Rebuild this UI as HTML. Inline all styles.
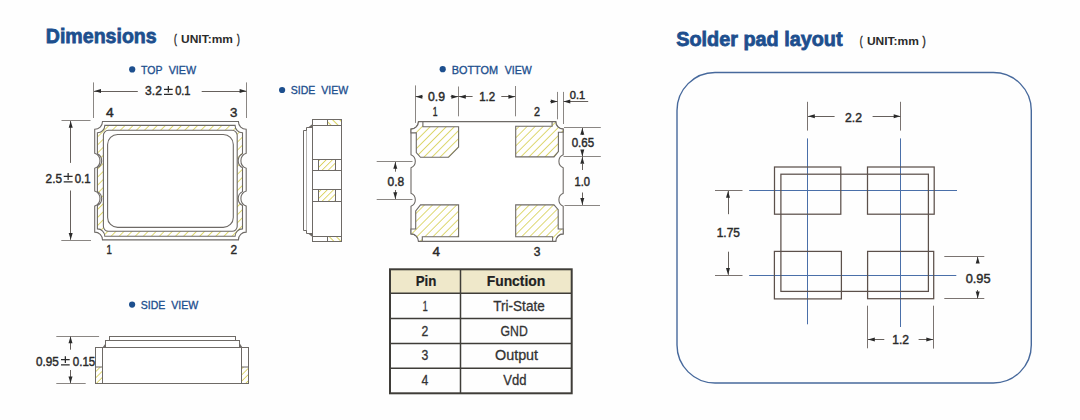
<!DOCTYPE html>
<html><head><meta charset="utf-8"><title>Dimensions</title>
<style>html,body{margin:0;padding:0;background:#fefefe;width:1080px;height:420px;overflow:hidden;font-family:"Liberation Sans",sans-serif} svg{display:block}</style>
</head><body>
<svg width="1080" height="420" viewBox="0 0 1080 420">
<defs>
<pattern id="hatch" patternUnits="userSpaceOnUse" width="5.7" height="5.7" patternTransform="rotate(45)">
<rect width="5.7" height="5.7" fill="#fff"/>
<line x1="0" y1="0" x2="0" y2="5.7" stroke="#d6ce4e" stroke-width="1.6"/>
</pattern>
<pattern id="hatch2" patternUnits="userSpaceOnUse" width="4.4" height="4.4" patternTransform="rotate(45)">
<rect width="4.4" height="4.4" fill="#fff"/>
<line x1="0" y1="0" x2="0" y2="4.4" stroke="#d6ce4e" stroke-width="1.6"/>
</pattern>
<pattern id="hatchS" patternUnits="userSpaceOnUse" width="5" height="5" patternTransform="rotate(-45)">
<rect width="5" height="5" fill="#fff"/>
<line x1="0" y1="0" x2="0" y2="5" stroke="#d6ce4e" stroke-width="1.8"/>
</pattern>
</defs>
<rect width="1080" height="420" fill="#fefefe"/>
<text x="101.25" y="43.2" font-family="Liberation Sans" font-size="21" font-weight="bold" fill="#1d4f8e" stroke="#1d4f8e" stroke-width="0.8" text-anchor="middle" textLength="110.9" lengthAdjust="spacingAndGlyphs">Dimensions</text>
<text x="175.40" y="42.8" font-family="Liberation Sans" font-size="12.5" font-weight="normal" fill="#2b2b2b" stroke="#2b2b2b" stroke-width="0.5" text-anchor="middle" textLength="2.8" lengthAdjust="spacingAndGlyphs">(</text>
<text x="207.00" y="42.8" font-family="Liberation Sans" font-size="11.8" font-weight="bold" fill="#2b2b2b" text-anchor="middle" textLength="51.8" lengthAdjust="spacingAndGlyphs">UNIT:mm</text>
<text x="238.40" y="42.8" font-family="Liberation Sans" font-size="12.5" font-weight="normal" fill="#2b2b2b" stroke="#2b2b2b" stroke-width="0.5" text-anchor="middle" textLength="2.8" lengthAdjust="spacingAndGlyphs">)</text>
<text x="759.40" y="45.7" font-family="Liberation Sans" font-size="20.2" font-weight="bold" fill="#1d4f8e" stroke="#1d4f8e" stroke-width="0.8" text-anchor="middle" textLength="166.2" lengthAdjust="spacingAndGlyphs">Solder pad layout</text>
<text x="861.20" y="45" font-family="Liberation Sans" font-size="12.5" font-weight="normal" fill="#2b2b2b" stroke="#2b2b2b" stroke-width="0.5" text-anchor="middle" textLength="2.8" lengthAdjust="spacingAndGlyphs">(</text>
<text x="892.90" y="45" font-family="Liberation Sans" font-size="11.8" font-weight="bold" fill="#2b2b2b" text-anchor="middle" textLength="52.0" lengthAdjust="spacingAndGlyphs">UNIT:mm</text>
<text x="924.00" y="45" font-family="Liberation Sans" font-size="12.5" font-weight="normal" fill="#2b2b2b" stroke="#2b2b2b" stroke-width="0.5" text-anchor="middle" textLength="3.2" lengthAdjust="spacingAndGlyphs">)</text>
<circle cx="132.2" cy="69.4" r="3.1" fill="#1d4f8e"/>
<text x="151.70" y="73.6" font-family="Liberation Sans" font-size="11.8" font-weight="normal" fill="#1d4f8e" stroke="#1d4f8e" stroke-width="0.35" text-anchor="middle" textLength="21.4" lengthAdjust="spacingAndGlyphs">TOP</text>
<text x="182.40" y="73.6" font-family="Liberation Sans" font-size="11.8" font-weight="normal" fill="#1d4f8e" stroke="#1d4f8e" stroke-width="0.35" text-anchor="middle" textLength="27.4" lengthAdjust="spacingAndGlyphs">VIEW</text>
<circle cx="282.1" cy="90" r="3.1" fill="#1d4f8e"/>
<text x="303.10" y="94" font-family="Liberation Sans" font-size="11.8" font-weight="normal" fill="#1d4f8e" stroke="#1d4f8e" stroke-width="0.35" text-anchor="middle" textLength="24.6" lengthAdjust="spacingAndGlyphs">SIDE</text>
<text x="334.77" y="94" font-family="Liberation Sans" font-size="11.8" font-weight="normal" fill="#1d4f8e" stroke="#1d4f8e" stroke-width="0.35" text-anchor="middle" textLength="27.1" lengthAdjust="spacingAndGlyphs">VIEW</text>
<circle cx="442.7" cy="69.2" r="3.1" fill="#1d4f8e"/>
<text x="474.85" y="73.5" font-family="Liberation Sans" font-size="11.8" font-weight="normal" fill="#1d4f8e" stroke="#1d4f8e" stroke-width="0.35" text-anchor="middle" textLength="46.3" lengthAdjust="spacingAndGlyphs">BOTTOM</text>
<text x="518.30" y="73.5" font-family="Liberation Sans" font-size="11.8" font-weight="normal" fill="#1d4f8e" stroke="#1d4f8e" stroke-width="0.35" text-anchor="middle" textLength="27.0" lengthAdjust="spacingAndGlyphs">VIEW</text>
<circle cx="132.1" cy="304.6" r="3.1" fill="#1d4f8e"/>
<text x="153.10" y="309" font-family="Liberation Sans" font-size="11.8" font-weight="normal" fill="#1d4f8e" stroke="#1d4f8e" stroke-width="0.35" text-anchor="middle" textLength="24.6" lengthAdjust="spacingAndGlyphs">SIDE</text>
<text x="184.78" y="309" font-family="Liberation Sans" font-size="11.8" font-weight="normal" fill="#1d4f8e" stroke="#1d4f8e" stroke-width="0.35" text-anchor="middle" textLength="27.1" lengthAdjust="spacingAndGlyphs">VIEW</text>
<path d="M102.50,121.50H238.40A7.8,7.8 0 0 0 246.20,129.30V153.27A8.0,8.0 0 0 0 246.20,168.33V191.07A8.0,8.0 0 0 0 246.20,206.13V232.10A7.8,7.8 0 0 0 238.40,239.90H102.50A7.8,7.8 0 0 0 94.70,232.10V206.13A8.0,8.0 0 0 0 94.70,191.07V168.33A8.0,8.0 0 0 0 94.70,153.27V129.30A7.8,7.8 0 0 0 102.50,121.50Z" fill="#fff" stroke="#6e6a66" stroke-width="1.1"/>
<path d="M104.80,125.40H235.10A7.4,7.4 0 0 0 242.50,132.80V153.83A7.8,7.8 0 0 0 242.50,167.77V191.63A7.8,7.8 0 0 0 242.50,205.57V228.90A7.4,7.4 0 0 0 235.10,236.30H104.80A7.4,7.4 0 0 0 97.40,228.90V205.57A7.8,7.8 0 0 0 97.40,191.63V167.77A7.8,7.8 0 0 0 97.40,153.83V132.80A7.4,7.4 0 0 0 104.80,125.40Z" fill="url(#hatch)" stroke="#6e6a66" stroke-width="1.1"/>
<rect x="103.4" y="130.3" width="133.79999999999998" height="101.0" rx="5" fill="#fff" stroke="#6e6a66" stroke-width="1.1"/>
<rect x="107.6" y="134.5" width="125.70000000000002" height="92.9" rx="10" fill="#fff" stroke="#6e6a66" stroke-width="1.1"/>
<line x1="93.5" y1="82.4" x2="93.5" y2="118" stroke="#8a8683" stroke-width="1"/>
<line x1="246.5" y1="82.4" x2="246.5" y2="118" stroke="#8a8683" stroke-width="1"/>
<line x1="94" y1="91.5" x2="137.8" y2="91.5" stroke="#66605c" stroke-width="1"/>
<polygon points="94.20,91.10 101.00,89.10 101.00,93.10" fill="#2a2a2a"/>
<line x1="201.7" y1="91.5" x2="246.5" y2="91.5" stroke="#66605c" stroke-width="1"/>
<polygon points="246.40,91.10 239.60,89.10 239.60,93.10" fill="#2a2a2a"/>
<text x="153.50" y="95.1" font-family="Liberation Sans" font-size="13" font-weight="normal" fill="#2a2a2a" stroke="#2a2a2a" stroke-width="0.45" text-anchor="middle" textLength="16.8" lengthAdjust="spacingAndGlyphs">3.2</text>
<path d="M164.00,89.37H172.70M168.35,86.00V92.55M164.00,94.40H172.70" stroke="#2a2a2a" stroke-width="1.25" fill="none"/>
<text x="182.85" y="95.1" font-family="Liberation Sans" font-size="13" font-weight="normal" fill="#2a2a2a" stroke="#2a2a2a" stroke-width="0.45" text-anchor="middle" textLength="15.3" lengthAdjust="spacingAndGlyphs">0.1</text>
<text x="109.85" y="116.5" font-family="Liberation Sans" font-size="13.5" font-weight="normal" fill="#2a2a2a" stroke="#2a2a2a" stroke-width="0.45" text-anchor="middle" textLength="7.7" lengthAdjust="spacingAndGlyphs">4</text>
<text x="233.70" y="116.5" font-family="Liberation Sans" font-size="13.5" font-weight="normal" fill="#2a2a2a" stroke="#2a2a2a" stroke-width="0.45" text-anchor="middle" textLength="7.4" lengthAdjust="spacingAndGlyphs">3</text>
<text x="109.20" y="253.8" font-family="Liberation Sans" font-size="13.5" font-weight="normal" fill="#2a2a2a" stroke="#2a2a2a" stroke-width="0.45" text-anchor="middle" textLength="5.4" lengthAdjust="spacingAndGlyphs">1</text>
<text x="233.80" y="253.8" font-family="Liberation Sans" font-size="13.5" font-weight="normal" fill="#2a2a2a" stroke="#2a2a2a" stroke-width="0.45" text-anchor="middle" textLength="6.6" lengthAdjust="spacingAndGlyphs">2</text>
<line x1="61.5" y1="120.5" x2="90.5" y2="120.5" stroke="#8a8683" stroke-width="1"/>
<line x1="61.3" y1="240.5" x2="91" y2="240.5" stroke="#8a8683" stroke-width="1"/>
<line x1="70.5" y1="121" x2="70.5" y2="162.9" stroke="#66605c" stroke-width="1"/>
<polygon points="70.70,121.00 68.70,127.80 72.70,127.80" fill="#2a2a2a"/>
<line x1="70.5" y1="190.5" x2="70.5" y2="239.8" stroke="#66605c" stroke-width="1"/>
<polygon points="70.70,239.80 68.70,233.00 72.70,233.00" fill="#2a2a2a"/>
<text x="53.80" y="182.6" font-family="Liberation Sans" font-size="13" font-weight="normal" fill="#2a2a2a" stroke="#2a2a2a" stroke-width="0.45" text-anchor="middle" textLength="16.4" lengthAdjust="spacingAndGlyphs">2.5</text>
<path d="M63.70,176.49H72.60M68.15,172.90V179.88M63.70,181.90H72.60" stroke="#2a2a2a" stroke-width="1.25" fill="none"/>
<text x="82.65" y="182.6" font-family="Liberation Sans" font-size="13" font-weight="normal" fill="#2a2a2a" stroke="#2a2a2a" stroke-width="0.45" text-anchor="middle" textLength="15.9" lengthAdjust="spacingAndGlyphs">0.1</text>
<path d="M312.5,127.5 H306.5 V233.5 H312.5" fill="#fff" stroke="#6e6a66" stroke-width="1"/>
<path d="M306.5,130.5 H303.5 V230.5 H306.5" fill="#fff" stroke="#6e6a66" stroke-width="1"/>
<polygon points="308,127.5 312.5,127.5 312.5,124" fill="#6e6a66"/>
<polygon points="308,233.5 312.5,233.5 312.5,237" fill="#6e6a66"/>
<rect x="312.5" y="119.5" width="29" height="122" fill="#fff" stroke="#6e6a66" stroke-width="1"/>
<rect x="327.5" y="119.5" width="14" height="6" fill="url(#hatchS)" stroke="#6e6a66" stroke-width="1"/>
<line x1="312.5" y1="125.5" x2="341" y2="125.5" stroke="#6e6a66" stroke-width="1"/>
<rect x="327.5" y="236.5" width="14" height="5" fill="url(#hatchS)" stroke="#6e6a66" stroke-width="1"/>
<line x1="312.5" y1="236.5" x2="341" y2="236.5" stroke="#6e6a66" stroke-width="1"/>
<line x1="312.5" y1="159.5" x2="341" y2="159.5" stroke="#6e6a66" stroke-width="1"/>
<line x1="312.5" y1="170.5" x2="341" y2="170.5" stroke="#6e6a66" stroke-width="1"/>
<rect x="318.5" y="159.5" width="17" height="11.0" fill="url(#hatch2)" stroke="#6e6a66" stroke-width="1"/>
<line x1="312.5" y1="189.5" x2="341" y2="189.5" stroke="#6e6a66" stroke-width="1"/>
<line x1="312.5" y1="201.5" x2="341" y2="201.5" stroke="#6e6a66" stroke-width="1"/>
<rect x="318.5" y="189.5" width="17" height="12.0" fill="url(#hatch2)" stroke="#6e6a66" stroke-width="1"/>
<path d="M418.50,121.60H555.70A7.5,7.5 0 0 0 563.20,129.10V154.84A7.0,7.0 0 0 0 563.20,167.76V193.34A7.0,7.0 0 0 0 563.20,206.26V233.90A7.5,7.5 0 0 0 555.70,241.40H418.50A7.5,7.5 0 0 0 411.00,233.90V206.26A7.0,7.0 0 0 0 411.00,193.34V167.76A7.0,7.0 0 0 0 411.00,154.84V129.10A7.5,7.5 0 0 0 418.50,121.60Z" fill="#fff" stroke="#6e6a66" stroke-width="1.1"/>
<path d="M458.6,126.7 V147.1 L448.5,157.3 H420.5 L416.3,152.5 V132.9 H411.0 V129.1 A7.5,7.5 0 0 0 418.5,121.6 H422.9 V126.7 Z" fill="url(#hatch)" stroke="#6e6a66" stroke-width="1.1" stroke-linejoin="miter"/>
<path d="M515.7,126.2 H552.1 V121.6 H555.7 A7.5,7.5 0 0 0 563.2,129.1 V132.3 H558.4 V151.6 L554.0,156.9 H515.7 Z" fill="url(#hatch)" stroke="#6e6a66" stroke-width="1.1" stroke-linejoin="miter"/>
<path d="M420.5,204.9 H458.6 V236.7 H422.3 V241.4 H418.5 A7.5,7.5 0 0 0 411.0,233.9 V229 H415.7 V210.9 Z" fill="url(#hatch)" stroke="#6e6a66" stroke-width="1.1" stroke-linejoin="miter"/>
<path d="M515.7,204.9 H554.0 L558.2,209.6 V229 H563.2 V233.9 A7.5,7.5 0 0 0 555.7,241.4 H552.6 V236.7 H515.7 Z" fill="url(#hatch)" stroke="#6e6a66" stroke-width="1.1" stroke-linejoin="miter"/>
<line x1="415.5" y1="85.4" x2="415.5" y2="122.9" stroke="#8a8683" stroke-width="1"/>
<line x1="458.5" y1="86.5" x2="458.5" y2="116.3" stroke="#8a8683" stroke-width="1"/>
<line x1="515.5" y1="86" x2="515.5" y2="116.3" stroke="#8a8683" stroke-width="1"/>
<line x1="415.5" y1="96.5" x2="422.6" y2="96.5" stroke="#66605c" stroke-width="1"/>
<polygon points="415.60,96.70 422.40,94.70 422.40,98.70" fill="#2a2a2a"/>
<line x1="450.6" y1="96.5" x2="472.6" y2="96.5" stroke="#66605c" stroke-width="1"/>
<polygon points="458.20,96.70 451.40,94.70 451.40,98.70" fill="#2a2a2a"/>
<polygon points="459.00,96.70 465.80,94.70 465.80,98.70" fill="#2a2a2a"/>
<line x1="501.3" y1="96.5" x2="515.3" y2="96.5" stroke="#66605c" stroke-width="1"/>
<polygon points="515.20,96.70 508.40,94.70 508.40,98.70" fill="#2a2a2a"/>
<text x="436.50" y="101.4" font-family="Liberation Sans" font-size="12.5" font-weight="normal" fill="#2a2a2a" stroke="#2a2a2a" stroke-width="0.45" text-anchor="middle" textLength="17.0" lengthAdjust="spacingAndGlyphs">0.9</text>
<text x="487.20" y="101.4" font-family="Liberation Sans" font-size="12.5" font-weight="normal" fill="#2a2a2a" stroke="#2a2a2a" stroke-width="0.45" text-anchor="middle" textLength="16.0" lengthAdjust="spacingAndGlyphs">1.2</text>
<text x="435.10" y="116.3" font-family="Liberation Sans" font-size="13.5" font-weight="normal" fill="#2a2a2a" stroke="#2a2a2a" stroke-width="0.45" text-anchor="middle" textLength="4.8" lengthAdjust="spacingAndGlyphs">1</text>
<text x="537.00" y="116.3" font-family="Liberation Sans" font-size="13.5" font-weight="normal" fill="#2a2a2a" stroke="#2a2a2a" stroke-width="0.45" text-anchor="middle" textLength="6.0" lengthAdjust="spacingAndGlyphs">2</text>
<line x1="557.5" y1="91.9" x2="557.5" y2="119.3" stroke="#8a8683" stroke-width="1"/>
<line x1="563.5" y1="91.9" x2="563.5" y2="124" stroke="#8a8683" stroke-width="1"/>
<line x1="550.1" y1="101.5" x2="557.6" y2="101.5" stroke="#66605c" stroke-width="1"/>
<polygon points="557.60,101.40 550.80,99.40 550.80,103.40" fill="#2a2a2a"/>
<line x1="563.5" y1="101.5" x2="588.2" y2="101.5" stroke="#66605c" stroke-width="1"/>
<polygon points="563.50,101.40 570.30,99.40 570.30,103.40" fill="#2a2a2a"/>
<text x="577.50" y="98.8" font-family="Liberation Sans" font-size="11.5" font-weight="normal" fill="#2a2a2a" stroke="#2a2a2a" stroke-width="0.45" text-anchor="middle" textLength="15.4" lengthAdjust="spacingAndGlyphs">0.1</text>
<line x1="564" y1="127.5" x2="600.8" y2="127.5" stroke="#8a8683" stroke-width="1"/>
<line x1="563.5" y1="156.5" x2="600.8" y2="156.5" stroke="#8a8683" stroke-width="1"/>
<line x1="564.5" y1="205.5" x2="600" y2="205.5" stroke="#8a8683" stroke-width="1"/>
<line x1="582.5" y1="128" x2="582.5" y2="135" stroke="#66605c" stroke-width="1"/>
<polygon points="582.30,127.90 580.30,134.70 584.30,134.70" fill="#2a2a2a"/>
<line x1="582.5" y1="150.8" x2="582.5" y2="163.3" stroke="#66605c" stroke-width="1"/>
<polygon points="582.30,156.40 580.30,149.60 584.30,149.60" fill="#2a2a2a"/>
<polygon points="582.30,157.00 580.30,163.80 584.30,163.80" fill="#2a2a2a"/>
<line x1="582.5" y1="163.3" x2="582.5" y2="170" stroke="#66605c" stroke-width="1"/>
<line x1="582.5" y1="192.5" x2="582.5" y2="205" stroke="#66605c" stroke-width="1"/>
<polygon points="582.30,204.70 580.30,197.90 584.30,197.90" fill="#2a2a2a"/>
<text x="582.95" y="147" font-family="Liberation Sans" font-size="12.5" font-weight="normal" fill="#2a2a2a" stroke="#2a2a2a" stroke-width="0.45" text-anchor="middle" textLength="22.5" lengthAdjust="spacingAndGlyphs">0.65</text>
<text x="582.25" y="185.5" font-family="Liberation Sans" font-size="12.5" font-weight="normal" fill="#2a2a2a" stroke="#2a2a2a" stroke-width="0.45" text-anchor="middle" textLength="15.5" lengthAdjust="spacingAndGlyphs">1.0</text>
<line x1="376.7" y1="161.5" x2="412.5" y2="161.5" stroke="#8a8683" stroke-width="1"/>
<line x1="376.7" y1="199.5" x2="412.5" y2="199.5" stroke="#8a8683" stroke-width="1"/>
<line x1="395.5" y1="162" x2="395.5" y2="171.7" stroke="#66605c" stroke-width="1"/>
<polygon points="395.30,162.00 393.30,168.80 397.30,168.80" fill="#2a2a2a"/>
<line x1="395.5" y1="190" x2="395.5" y2="199" stroke="#66605c" stroke-width="1"/>
<polygon points="395.30,199.00 393.30,192.20 397.30,192.20" fill="#2a2a2a"/>
<text x="395.85" y="185.5" font-family="Liberation Sans" font-size="12.5" font-weight="normal" fill="#2a2a2a" stroke="#2a2a2a" stroke-width="0.45" text-anchor="middle" textLength="16.7" lengthAdjust="spacingAndGlyphs">0.8</text>
<text x="436.25" y="255.8" font-family="Liberation Sans" font-size="13.5" font-weight="normal" fill="#2a2a2a" stroke="#2a2a2a" stroke-width="0.45" text-anchor="middle" textLength="7.5" lengthAdjust="spacingAndGlyphs">4</text>
<text x="537.15" y="256.2" font-family="Liberation Sans" font-size="13.5" font-weight="normal" fill="#2a2a2a" stroke="#2a2a2a" stroke-width="0.45" text-anchor="middle" textLength="6.7" lengthAdjust="spacingAndGlyphs">3</text>
<rect x="109.5" y="336.5" width="126" height="10" fill="#fff" stroke="#6e6a66" stroke-width="1"/>
<rect x="105.5" y="340.5" width="134" height="10" fill="#fff" stroke="#6e6a66" stroke-width="1"/>
<rect x="95.5" y="347.5" width="153" height="36" fill="#fff" stroke="#6e6a66" stroke-width="1"/>
<polygon points="102.5,347.5 105.5,347.5 105.5,343.5" fill="#6e6a66"/>
<polygon points="242.5,347.5 239.5,347.5 239.5,343" fill="#6e6a66"/>
<line x1="102.5" y1="347.5" x2="102.5" y2="383.5" stroke="#6e6a66" stroke-width="1"/>
<line x1="241.5" y1="347.5" x2="241.5" y2="383.5" stroke="#6e6a66" stroke-width="1"/>
<rect x="95.5" y="367" width="7" height="16.5" fill="url(#hatch2)" stroke="#6e6a66" stroke-width="1"/>
<rect x="241.5" y="367" width="7" height="16.5" fill="url(#hatch2)" stroke="#6e6a66" stroke-width="1"/>
<line x1="56.3" y1="336.5" x2="99.1" y2="336.5" stroke="#8a8683" stroke-width="1"/>
<line x1="56.3" y1="383.5" x2="85.7" y2="383.5" stroke="#8a8683" stroke-width="1"/>
<line x1="70.5" y1="336.5" x2="70.5" y2="349.7" stroke="#66605c" stroke-width="1"/>
<polygon points="70.50,336.50 68.50,343.30 72.50,343.30" fill="#2a2a2a"/>
<line x1="70.5" y1="370" x2="70.5" y2="383.2" stroke="#66605c" stroke-width="1"/>
<polygon points="70.50,383.20 68.50,376.40 72.50,376.40" fill="#2a2a2a"/>
<text x="47.45" y="365.6" font-family="Liberation Sans" font-size="13" font-weight="normal" fill="#2a2a2a" stroke="#2a2a2a" stroke-width="0.45" text-anchor="middle" textLength="22.9" lengthAdjust="spacingAndGlyphs">0.95</text>
<path d="M61.00,359.74H69.70M65.35,356.30V363.00M61.00,364.90H69.70" stroke="#2a2a2a" stroke-width="1.25" fill="none"/>
<text x="84.05" y="365.6" font-family="Liberation Sans" font-size="13" font-weight="normal" fill="#2a2a2a" stroke="#2a2a2a" stroke-width="0.45" text-anchor="middle" textLength="22.5" lengthAdjust="spacingAndGlyphs">0.15</text>
<rect x="390" y="269.3" width="181.7" height="24.0" fill="#efe8ca"/>
<line x1="390" y1="293.3" x2="571.7" y2="293.3" stroke="#3f3d38" stroke-width="1.5"/>
<line x1="390" y1="318.5" x2="571.7" y2="318.5" stroke="#3f3d38" stroke-width="1.5"/>
<line x1="390" y1="343.6" x2="571.7" y2="343.6" stroke="#3f3d38" stroke-width="1.5"/>
<line x1="390" y1="368.3" x2="571.7" y2="368.3" stroke="#3f3d38" stroke-width="1.5"/>
<line x1="460.5" y1="269.3" x2="460.5" y2="393.3" stroke="#3f3d38" stroke-width="1.5"/>
<rect x="390" y="269.3" width="181.7" height="124.0" fill="none" stroke="#3f3d38" stroke-width="2"/>
<text x="426.05" y="285.7" font-family="Liberation Sans" font-size="15" font-weight="bold" fill="#222" stroke="#222" stroke-width="0.2" text-anchor="middle" textLength="20.7" lengthAdjust="spacingAndGlyphs">Pin</text>
<text x="516.00" y="285.8" font-family="Liberation Sans" font-size="15" font-weight="bold" fill="#222" stroke="#222" stroke-width="0.2" text-anchor="middle" textLength="58.6" lengthAdjust="spacingAndGlyphs">Function</text>
<text x="425.25" y="310.7" font-family="Liberation Sans" font-size="15" font-weight="normal" fill="#333" stroke="#333" stroke-width="0.3" text-anchor="middle" textLength="5.3" lengthAdjust="spacingAndGlyphs">1</text>
<text x="519.00" y="310.7" font-family="Liberation Sans" font-size="15" font-weight="normal" fill="#333" stroke="#333" stroke-width="0.3" text-anchor="middle" textLength="51.4" lengthAdjust="spacingAndGlyphs">Tri-State</text>
<text x="424.80" y="335.7" font-family="Liberation Sans" font-size="15" font-weight="normal" fill="#333" stroke="#333" stroke-width="0.3" text-anchor="middle" textLength="6.8" lengthAdjust="spacingAndGlyphs">2</text>
<text x="514.20" y="335.7" font-family="Liberation Sans" font-size="15" font-weight="normal" fill="#333" stroke="#333" stroke-width="0.3" text-anchor="middle" textLength="27.2" lengthAdjust="spacingAndGlyphs">GND</text>
<text x="424.80" y="360.4" font-family="Liberation Sans" font-size="15" font-weight="normal" fill="#333" stroke="#333" stroke-width="0.3" text-anchor="middle" textLength="6.8" lengthAdjust="spacingAndGlyphs">3</text>
<text x="516.55" y="360.4" font-family="Liberation Sans" font-size="15" font-weight="normal" fill="#333" stroke="#333" stroke-width="0.3" text-anchor="middle" textLength="43.1" lengthAdjust="spacingAndGlyphs">Output</text>
<text x="424.80" y="385.4" font-family="Liberation Sans" font-size="15" font-weight="normal" fill="#333" stroke="#333" stroke-width="0.3" text-anchor="middle" textLength="6.8" lengthAdjust="spacingAndGlyphs">4</text>
<text x="514.80" y="385.4" font-family="Liberation Sans" font-size="15" font-weight="normal" fill="#333" stroke="#333" stroke-width="0.3" text-anchor="middle" textLength="23.2" lengthAdjust="spacingAndGlyphs">Vdd</text>
<rect x="677" y="72.5" width="354.29999999999995" height="310.5" rx="38" ry="38" fill="none" stroke="#47699c" stroke-width="1.4"/>
<line x1="807.5" y1="138.4" x2="807.5" y2="324.3" stroke="#4a6fa9" stroke-width="1.0"/>
<line x1="900.5" y1="138.4" x2="900.5" y2="327" stroke="#4a6fa9" stroke-width="1.0"/>
<line x1="749.2" y1="190.5" x2="957" y2="190.5" stroke="#4a6fa9" stroke-width="1.0"/>
<line x1="749.2" y1="275.5" x2="956.3" y2="275.5" stroke="#4a6fa9" stroke-width="1.0"/>
<rect x="774.5" y="167" width="66.3" height="47.2" fill="none" stroke="#5c504b" stroke-width="1.25"/>
<rect x="867.5" y="167" width="66.7" height="47.2" fill="none" stroke="#5c504b" stroke-width="1.25"/>
<rect x="774.4" y="251.4" width="67.0" height="47.5" fill="none" stroke="#5c504b" stroke-width="1.25"/>
<rect x="867.6" y="251.4" width="66.1" height="47.3" fill="none" stroke="#5c504b" stroke-width="1.25"/>
<rect x="780.9" y="174.2" width="147.5" height="117.2" fill="none" stroke="#5c504b" stroke-width="1.25"/>
<line x1="807.5" y1="101.8" x2="807.5" y2="130.6" stroke="#7a7370" stroke-width="1"/>
<line x1="900.5" y1="101.8" x2="900.5" y2="130.6" stroke="#7a7370" stroke-width="1"/>
<line x1="808" y1="116.5" x2="834.6" y2="116.5" stroke="#66605c" stroke-width="1"/>
<polygon points="808.00,116.20 814.80,114.20 814.80,118.20" fill="#2a2a2a"/>
<line x1="872.6" y1="116.5" x2="900.5" y2="116.5" stroke="#66605c" stroke-width="1"/>
<polygon points="900.50,116.20 893.70,114.20 893.70,118.20" fill="#2a2a2a"/>
<text x="853.50" y="122" font-family="Liberation Sans" font-size="13" font-weight="normal" fill="#2a2a2a" stroke="#2a2a2a" stroke-width="0.45" text-anchor="middle" textLength="17.0" lengthAdjust="spacingAndGlyphs">2.2</text>
<line x1="715" y1="190.5" x2="742.5" y2="190.5" stroke="#7a7370" stroke-width="1"/>
<line x1="715" y1="275.5" x2="742.5" y2="275.5" stroke="#7a7370" stroke-width="1"/>
<line x1="728.5" y1="191" x2="728.5" y2="214.2" stroke="#66605c" stroke-width="1"/>
<polygon points="728.00,191.00 726.00,197.80 730.00,197.80" fill="#2a2a2a"/>
<line x1="728.5" y1="251.7" x2="728.5" y2="274.8" stroke="#66605c" stroke-width="1"/>
<polygon points="728.00,274.80 726.00,268.00 730.00,268.00" fill="#2a2a2a"/>
<text x="728.35" y="236.7" font-family="Liberation Sans" font-size="13" font-weight="normal" fill="#2a2a2a" stroke="#2a2a2a" stroke-width="0.45" text-anchor="middle" textLength="23.3" lengthAdjust="spacingAndGlyphs">1.75</text>
<line x1="944.3" y1="256.5" x2="984.3" y2="256.5" stroke="#7a7370" stroke-width="1"/>
<line x1="944.3" y1="298.5" x2="984.3" y2="298.5" stroke="#7a7370" stroke-width="1"/>
<line x1="977.5" y1="256.8" x2="977.5" y2="263" stroke="#66605c" stroke-width="1"/>
<polygon points="977.70,256.80 975.70,263.60 979.70,263.60" fill="#2a2a2a"/>
<line x1="977.5" y1="290" x2="977.5" y2="298.4" stroke="#66605c" stroke-width="1"/>
<polygon points="977.70,298.40 975.70,291.60 979.70,291.60" fill="#2a2a2a"/>
<text x="978.15" y="282.9" font-family="Liberation Sans" font-size="13" font-weight="normal" fill="#2a2a2a" stroke="#2a2a2a" stroke-width="0.45" text-anchor="middle" textLength="24.9" lengthAdjust="spacingAndGlyphs">0.95</text>
<line x1="867.5" y1="305.7" x2="867.5" y2="348.3" stroke="#7a7370" stroke-width="1"/>
<line x1="933.5" y1="305.7" x2="933.5" y2="348.6" stroke="#7a7370" stroke-width="1"/>
<line x1="868" y1="339.5" x2="884.3" y2="339.5" stroke="#66605c" stroke-width="1"/>
<polygon points="868.00,339.40 874.80,337.40 874.80,341.40" fill="#2a2a2a"/>
<line x1="918.6" y1="339.5" x2="933.1" y2="339.5" stroke="#66605c" stroke-width="1"/>
<polygon points="933.10,339.40 926.30,337.40 926.30,341.40" fill="#2a2a2a"/>
<text x="900.70" y="344.3" font-family="Liberation Sans" font-size="13" font-weight="normal" fill="#2a2a2a" stroke="#2a2a2a" stroke-width="0.45" text-anchor="middle" textLength="16.8" lengthAdjust="spacingAndGlyphs">1.2</text>
</svg>
</body></html>
